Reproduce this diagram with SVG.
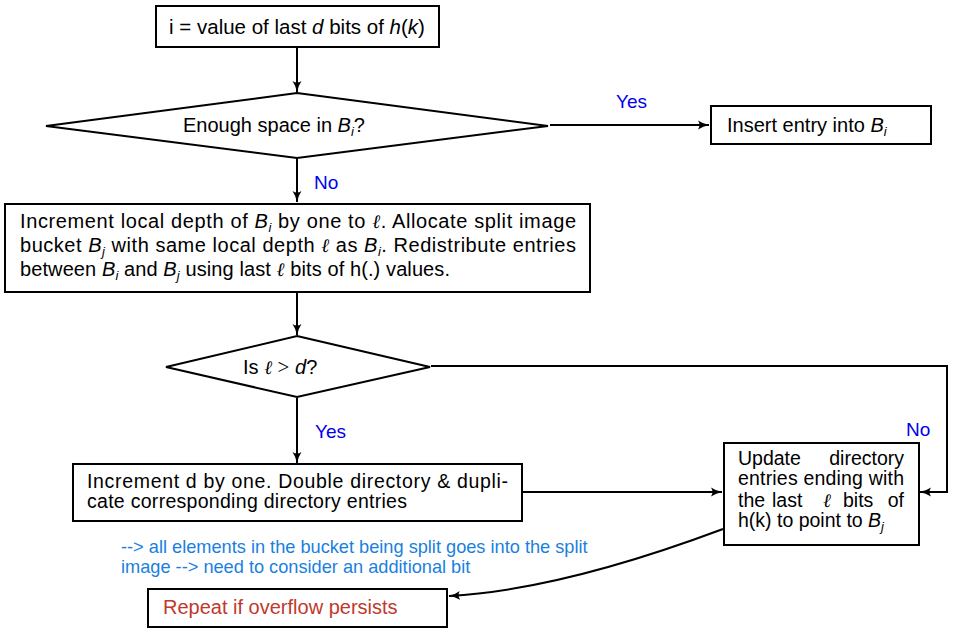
<svg xmlns="http://www.w3.org/2000/svg" width="954" height="634" viewBox="0 0 954 634">
<defs>
<marker id="ah" viewBox="0 0 12 10" markerWidth="12" markerHeight="10" refX="11" refY="5" orient="auto" markerUnits="userSpaceOnUse">
<path d="M0,0.5 Q5,4 11.5,5 Q5,6 0,9.5 Q3,5 0,0.5 Z" fill="#000"/>
</marker>
<style>
.box{fill:#fff;stroke:#000;stroke-width:2}
.ln{fill:none;stroke:#000;stroke-width:2}
text{font-family:"Liberation Sans",Arial,sans-serif;font-size:20px;fill:#000}
.it{font-style:italic}
.sub{font-size:13px;font-style:italic}
.ell{font-family:"DejaVu Serif","Liberation Serif",serif;font-style:italic;font-size:19px}
.ser{font-family:"Liberation Serif",serif;font-size:21px}
.lbl{fill:#0000ee;font-size:19px}
.note{fill:#1a7fe0;font-size:18.2px}
.red{fill:#c0392b}
.tight{font-size:19.5px}
</style>
</defs>
<g id="connectors">
<path class="ln" d="M297,48 L297,92" marker-end="url(#ah)"/>
<path class="ln" d="M550,125 L709,125" marker-end="url(#ah)"/>
<path class="ln" d="M297,158 L297,202" marker-end="url(#ah)"/>
<path class="ln" d="M297,293 L297,335" marker-end="url(#ah)"/>
<path class="ln" d="M297,398 L297,463" marker-end="url(#ah)"/>
<path class="ln" d="M431,366 L947,366 L947,492 L920,492" marker-end="url(#ah)"/>
<path class="ln" d="M523,492 L722,492" marker-end="url(#ah)"/>
<path class="ln" d="M723,529 Q560,590 449,596" marker-end="url(#ah)"/>
<text class="lbl" x="616" y="108">Yes</text>
<text class="lbl" x="314" y="189">No</text>
<text class="lbl" x="315" y="438">Yes</text>
<text class="lbl" x="906" y="436">No</text>
</g>
<g id="n-start">
<rect class="box" x="156" y="6" width="283" height="41"/>
<text x="297" y="34" text-anchor="middle" style="font-size:20.5px">i = value of last <tspan class="it">d</tspan> bits of <tspan class="it">h</tspan>(<tspan class="it">k</tspan>)</text>
</g>
<g id="n-space">
<polygon class="box" points="297,93 548,126 297,158 46,126"/>
<text x="183" y="132">Enough space in <tspan class="it">B</tspan><tspan class="sub" dy="4">i</tspan><tspan dy="-4">?</tspan></text>
</g>
<g id="n-insert">
<rect class="box" x="711" y="106" width="220" height="38"/>
<text x="727" y="132">Insert entry into <tspan class="it">B</tspan><tspan class="sub" dy="4">i</tspan></text>
</g>
<g id="n-split">
<rect class="box" x="5" y="204" width="585" height="88"/>
<text x="20" y="228" textLength="556" lengthAdjust="spacing">Increment local depth of <tspan class="it">B</tspan><tspan class="sub" dy="4">i</tspan><tspan dy="-4"> by one to </tspan><tspan class="ell">ℓ</tspan>.  Allocate split image</text>
<text x="20" y="252" textLength="556" lengthAdjust="spacing">bucket <tspan class="it">B</tspan><tspan class="sub" dy="4">j</tspan><tspan dy="-4"> with same local depth </tspan><tspan class="ell">ℓ</tspan> as <tspan class="it">B</tspan><tspan class="sub" dy="4">i</tspan><tspan dy="-4">.  Redistribute entries</tspan></text>
<text x="20" y="276" textLength="430" lengthAdjust="spacing">between <tspan class="it">B</tspan><tspan class="sub" dy="4">i</tspan><tspan dy="-4"> and </tspan><tspan class="it">B</tspan><tspan class="sub" dy="4">j</tspan><tspan dy="-4"> using last </tspan><tspan class="ell">ℓ</tspan> bits of h(.) values.</text>
</g>
<g id="n-cmp">
<polygon class="box" points="297,336 430,367 297,397 166,367"/>
<text x="243" y="374">Is <tspan class="ell">ℓ</tspan> <tspan class="ser">&gt;</tspan> <tspan class="it">d</tspan>?</text>
</g>
<g id="n-double">
<rect class="box" x="73" y="464" width="449" height="57"/>
<text class="tight" x="87" y="488" textLength="421" lengthAdjust="spacing">Increment d by one.  Double directory &amp; dupli-</text>
<text class="tight" x="87" y="508" textLength="320" lengthAdjust="spacing">cate corresponding directory entries</text>
</g>
<g id="n-update">
<rect class="box" x="724" y="443" width="195" height="102"/>
<text class="tight" x="738" y="465">Update</text>
<text class="tight" x="904" y="465" text-anchor="end">directory</text>
<text class="tight" x="738" y="485" textLength="166" lengthAdjust="spacing">entries ending with</text>
<text class="tight" x="738" y="507">the</text>
<text class="tight" x="772" y="507">last</text>
<text x="823" y="507" class="ell">ℓ</text>
<text class="tight" x="843" y="507">bits</text>
<text class="tight" x="904" y="507" text-anchor="end">of</text>
<text class="tight" x="738" y="527">h(k) to point to <tspan class="it">B</tspan><tspan class="sub" dy="4">j</tspan></text>
</g>
<g id="n-note">
<text class="note" x="121" y="553">--&gt; all elements in the bucket being split goes into the split</text>
<text class="note" x="121" y="573">image --&gt; need to consider an additional bit</text>
</g>
<g id="n-repeat">
<rect class="box" x="148" y="589" width="299" height="38"/>
<text class="red" x="163" y="614">Repeat if overflow persists</text>
</g>
</svg>
